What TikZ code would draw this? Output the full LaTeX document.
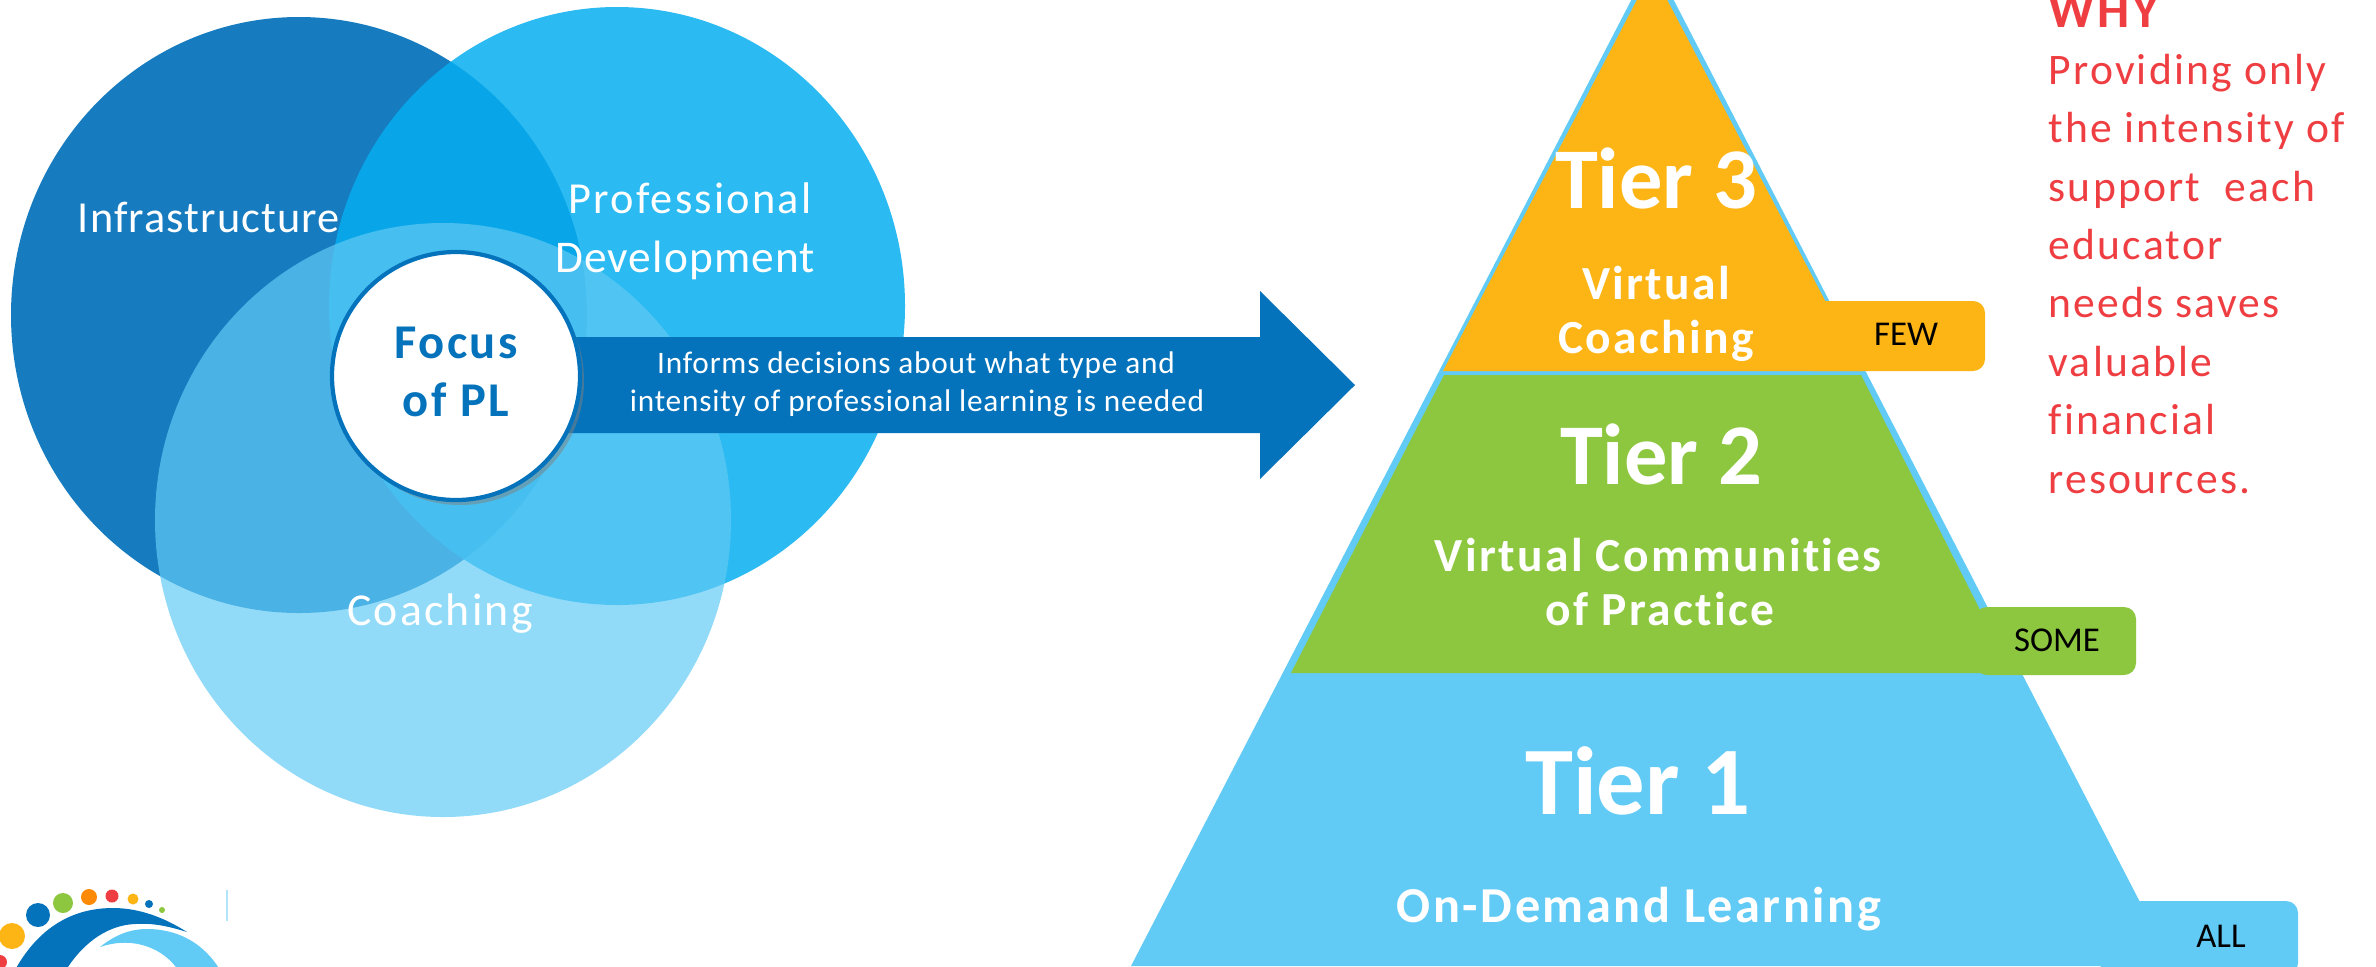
\documentclass[tikz,border=0pt]{standalone}
\usepackage{fontspec}
\setmainfont{Carlito}[Ligatures=NoCommon]
\newfontfamily\widefont[LetterSpace=5,Ligatures=NoCommon]{Carlito}
\newfontfamily\midfont[LetterSpace=2.5,Ligatures=NoCommon]{Carlito}
\usetikzlibrary{shadows}
\definecolor{infrablue}{HTML}{167BBF}
\definecolor{devblue}{HTML}{06AEF0}
\definecolor{tierblue}{HTML}{62CBF5}
\definecolor{arrowblue}{HTML}{0573BB}
\definecolor{tierorange}{HTML}{FDB415}
\definecolor{tiergreen}{HTML}{8DC73F}
\definecolor{whyred}{HTML}{EF3E42}
\tikzset{
  venntext/.style={anchor=base, text=white, font=\widefont\fontsize{12.6}{15}\selectfont},
  focustext/.style={anchor=base, text=arrowblue, font=\widefont\bfseries\fontsize{13.8}{15}\selectfont},
  arrowtext/.style={anchor=base, text=white, font=\midfont\fontsize{8.9}{11}\selectfont},
  tiertext/.style={anchor=base, text=white, font=\bfseries\fontsize{24.6}{28}\selectfont},
  subtext/.style={anchor=base, text=white, font=\widefont\bfseries\fontsize{13.5}{16}\selectfont},
  tagtext/.style={anchor=base, text=black, font=\fontsize{9.9}{12}\selectfont},
  whytext/.style={anchor=base west, text=whyred, align=left, inner sep=0pt, font=\widefont\fontsize{12.4}{16.6}\selectfont},
}
\def\tagradius{3.4pt}

\begin{document}
\begin{tikzpicture}[x=0.01cm, y=-0.01cm]
  \path[clip, use as bounding box] (0, 0) rectangle (2376, 966);
  \fill[white] (0, 0) rectangle (2376, 966);

  % venn
  \fill[infrablue] (299, 315) ellipse [x radius=288, y radius=298];
  \fill[devblue, opacity=0.85] (617, 306) ellipse [x radius=288, y radius=299];
  \fill[tierblue, opacity=0.69] (443, 520) ellipse [x radius=288, y radius=297];

  % arrow
  \fill[arrowblue] (560, 337) -- (1260, 337) -- (1260, 291) -- (1355, 385) -- (1260, 479) -- (1260, 433) -- (560, 433) -- cycle;

  \fill[white, draw=arrowblue, line width=1.2, drop shadow={shadow xshift=0.04cm, shadow yshift=-0.05cm, opacity=0.5}] (456, 376) ellipse [x radius=124, y radius=124];

  \node[venntext, font=\midfont\fontsize{12.6}{15}\selectfont] (infra) at (209, 232) {Infrastructure};
  \node[venntext] (prof) at (690, 213) {Professional};
  \node[venntext, font=\midfont\fontsize{12.9}{15}\selectfont] (dev) at (685, 272) {Development};
  \node[venntext, font=\widefont\fontsize{13}{15}\selectfont] (coach) at (440, 625) {Coaching};
  \node[focustext] (focus) at (456, 358) {Focus};
  \node[focustext] (ofpl) at (456, 416) {of PL};
  \node[arrowtext] (informs) at (916, 373) {Informs decisions about what type and};
  \node[arrowtext] (intensity) at (917, 411) {intensity of professional learning is needed};

  % pyramid
  \fill[tierblue] (1652.5, -41) -- (2173, 966) -- (1131, 966) -- cycle;
  \fill[tierblue, rounded corners=\tagradius] (2100, 901) rectangle (2298, 975);

  \fill[tierorange] (1652, -29) -- (1862, 371) -- (1443, 371) -- cycle;
  \fill[tierorange, rounded corners=\tagradius] (1800, 301) rectangle (1985, 371);

  \fill[tiergreen] (1444, 375) -- (1861, 375) -- (2012, 673) -- (1291, 673) -- cycle;
  \fill[tiergreen, rounded corners=\tagradius] (1975, 607) rectangle (2136, 675);

  \node[tiertext] (tier3) at (1656, 208) {Tier 3};
  \node[subtext] (virtual) at (1656, 299) {Virtual};
  \node[subtext] (coaching) at (1656, 353) {Coaching};
  \node[tagtext] (few) at (1906, 345) {FEW};

  \node[tiertext] (tier2) at (1661, 484) {Tier 2};
  \node[subtext] (communities) at (1658, 571) {Virtual Communities};
  \node[subtext] (practice) at (1660, 625) {of Practice};
  \node[tagtext] (some) at (2057, 651) {SOME};

  \node[tiertext, font=\bfseries\fontsize{27.5}{28}\selectfont] (tier1) at (1638, 814) {Tier 1};
  \node[subtext, font=\widefont\bfseries\fontsize{14.3}{16}\selectfont] (ondemand) at (1639, 922) {On-Demand Learning};
  \node[tagtext] (all) at (2221, 947) {ALL};

  % why
  \node[whytext, font=\widefont\bfseries\fontsize{14.5}{16.5}\selectfont] (why) at (2048, 27) {WHY};
  \node[whytext] (reason) at (2048, 493) {Providing only\\the intensity of\\support\ \ each\\educator\\needs saves\\valuable\\financial\\resources.};

  % logo
  \begin{scope}
    \fill[arrowblue] (15, 970) .. controls (40, 925) and (75, 908) .. (113, 908) .. controls (140, 908) and (165, 918) .. (187, 932) .. controls (165, 925) and (150, 923) .. (135, 924) .. controls (110, 925) and (85, 940) .. (66, 970) -- cycle;
    \fill[tierblue] (100, 947) .. controls (115, 935) and (130, 929) .. (147, 929) .. controls (180, 929) and (205, 945) .. (220, 970) -- (178, 970) .. controls (165, 950) and (135, 935) .. (100, 947) -- cycle;
    \fill[tierorange] (12, 936) circle (13);
    \fill[arrowblue] (38, 915) circle (12);
    \fill[tiergreen] (63, 903) circle (10);
    \fill[orange!80!tierorange] (89, 897) circle (8);
    \fill[whyred] (112, 896) circle (6.5);
    \fill[tierorange] (133, 899) circle (5.5);
    \fill[arrowblue] (149, 904) circle (4);
    \fill[tiergreen] (162, 910) circle (3);
    \fill[whyred] (0, 962) circle (7);
    \draw[tierblue!50, line width=0.5] (227, 890) -- (227, 921);
  \end{scope}
\end{tikzpicture}
\end{document}
